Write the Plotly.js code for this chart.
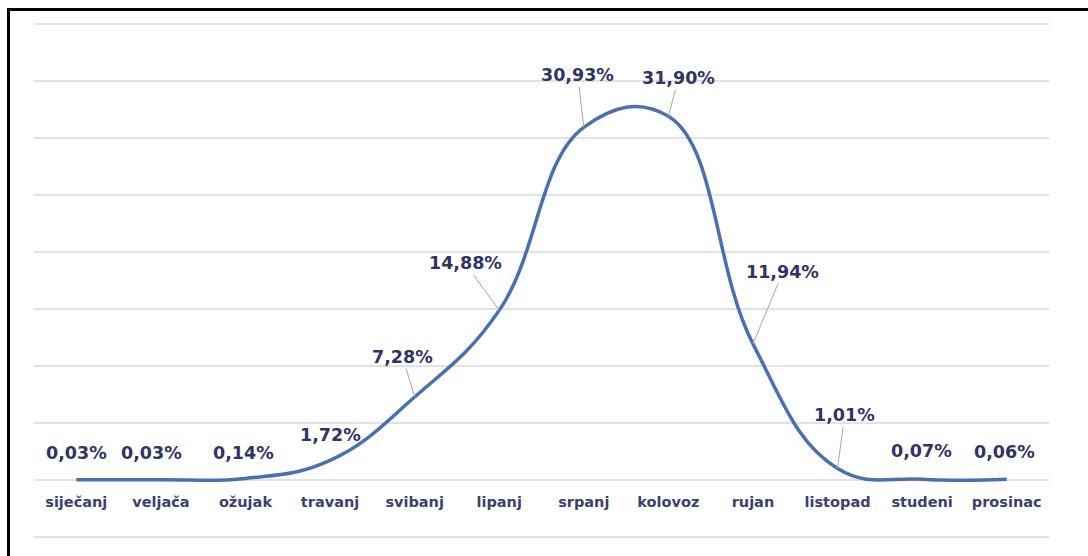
<!DOCTYPE html>
<html>
<head>
<meta charset="utf-8">
<script src="https://cdn.plot.ly/plotly-3.0.1.min.js"></script>
<style>
  html, body { margin: 0; padding: 0; background: #ffffff; }
  #wrap { position: relative; width: 1088px; height: 556px; overflow: hidden; background: #fff; }
  #chart { position: absolute; left: 0; top: 0; width: 1088px; height: 556px; }
  #frame { position: absolute; left: 7px; top: 8px; width: 1090px; height: 560px;
           border-left: 3px solid #000; border-top: 3px solid #000; pointer-events: none; }
</style>
</head>
<body>
<div id="wrap">
  <div id="chart"></div>
  <div id="frame"></div>
</div>
<script>
// Data
const months = ['siječanj','veljača','ožujak','travanj','svibanj','lipanj','srpanj','kolovoz','rujan','listopad','studeni','prosinac'];
const shares = [0.03, 0.03, 0.14, 1.72, 7.28, 14.88, 30.93, 31.90, 11.94, 1.01, 0.07, 0.06];

// Label placement (pixel offsets from each point; styling only)
const labelDX = [0, -9, -2, 0, -12, -34, -6, 10, 30, 7, -1, -2];
const labelDY = [-27, -27, -25, -25, -40, -47, -52, -38, -72, -53, -28, -27];
const hasLeader = [false, false, false, false, true, true, true, true, true, true, false, false];

function fmt(v) { return v.toFixed(2).replace('.', ',') + '%'; }

const trace = {
  x: months,
  y: shares,
  type: 'scatter',
  mode: 'lines',
  line: { color: '#4a70b0', width: 3.5, shape: 'spline', smoothing: 1.2 },
  hoverinfo: 'skip'
};

const annotations = months.map((m, i) => ({
  x: m, y: shares[i], xref: 'x', yref: 'y',
  text: fmt(shares[i]),
  showarrow: true,
  arrowhead: 0,
  arrowwidth: 1,
  arrowcolor: hasLeader[i] ? '#a6a6a6' : 'rgba(0,0,0,0)',
  standoff: 0,
  ax: labelDX[i], ay: labelDY[i],
  font: { family: 'DejaVu Sans', size: 17.5, color: '#2f3563', weight: 'bold' }
}));

const layout = {
  width: 1088, height: 556,
  margin: { l: 34, r: 39, t: 22, b: 16, pad: 0 },
  paper_bgcolor: '#ffffff', plot_bgcolor: '#ffffff',
  showlegend: false,
  xaxis: {
    type: 'category',
    range: [-0.5, 11.5],
    showgrid: false, zeroline: false, showline: false,
    ticks: '',
    anchor: 'free', position: 0.093,
    tickfont: { family: 'DejaVu Sans', size: 14.5, color: '#3a4170', weight: 'bold' }
  },
  yaxis: {
    range: [-5.263, 40.175],
    dtick: 5, tick0: 0,
    showgrid: true, gridcolor: '#e2e2e2', gridwidth: 2,
    zeroline: false, showline: false,
    showticklabels: false, ticks: ''
  },
  annotations: annotations
};

Plotly.newPlot('chart', [trace], layout, { staticPlot: true, displayModeBar: false });
</script>
</body>
</html>
